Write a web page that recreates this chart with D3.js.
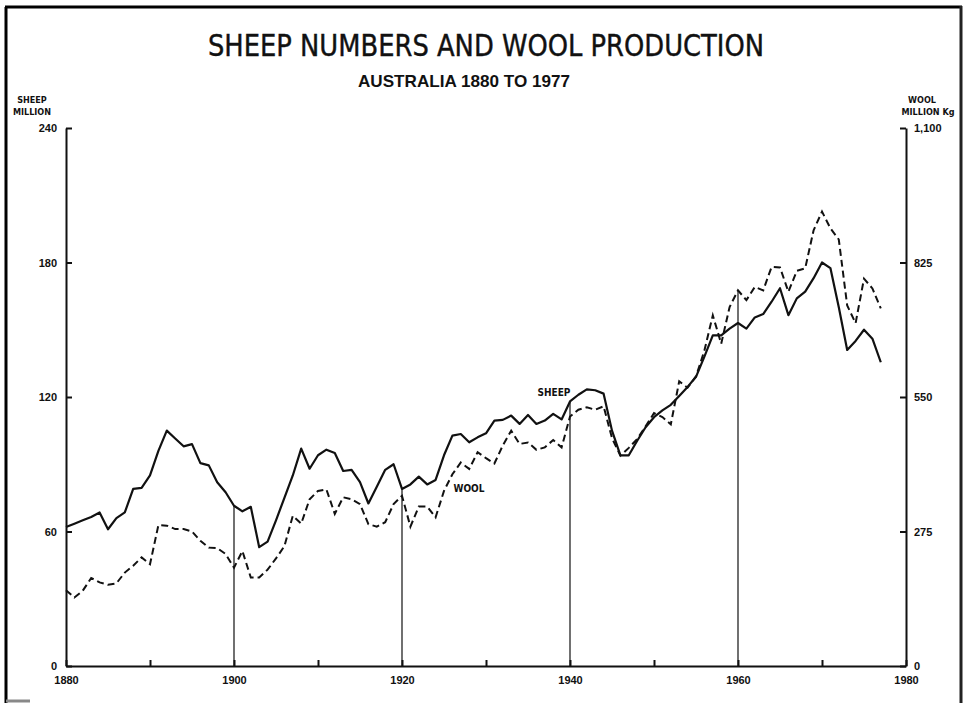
<!DOCTYPE html>
<html>
<head>
<meta charset="utf-8">
<script src="https://cdn.jsdelivr.net/npm/d3@7"></script>
<style>
  body { margin: 0; background: #fff; overflow: hidden; }
  svg { display: block; }
  svg text { fill: #111; }
</style>
</head>
<body>
<div id="myChart"></div>
<script>
			//Global Variables
			var w = 964;
			var h = 703;
			var narrow = "'Liberation Sans Narrow', 'DejaVu Sans Condensed', 'Liberation Sans', sans-serif";
			var bold = "'Liberation Sans', Arial, sans-serif";

			//data (sheep in million, wool in million kg)
			var years = [
				1880,1881,1882,1883,1884,1885,1886,1887,1888,1889,
				1890,1891,1892,1893,1894,1895,1896,1897,1898,1899,
				1900,1901,1902,1903,1904,1905,1906,1907,1908,1909,
				1910,1911,1912,1913,1914,1915,1916,1917,1918,1919,
				1920,1921,1922,1923,1924,1925,1926,1927,1928,1929,
				1930,1931,1932,1933,1934,1935,1936,1937,1938,1939,
				1940,1941,1942,1943,1944,1945,1946,1947,1948,1949,
				1950,1951,1952,1953,1954,1955,1956,1957,1958,1959,
				1960,1961,1962,1963,1964,1965,1966,1967,1968,1969,
				1970,1971,1972,1973,1974,1975,1976,1977];

			var sheep = [
				62,63.5,65,66.5,68.5,61,66,68.5,79,79.5,
				85,96,105,101.5,98,99,90.5,89.5,82,77.5,
				71.5,69,71,53,55.5,65,75,85,97,88,
				94,96.5,95,87,87.5,82,72.5,80,87.5,90,
				79,81,84.5,81,83,94,102.8,103.5,99.8,102,
				103.8,109.5,109.8,111.7,108,112,108,109.5,112.5,110,
				118,121,123.4,123,121.5,105,94,94,100.5,106.5,
				111,114,116.5,120.5,124.5,129,138,147.5,147.5,150.5,
				153,150.5,155.5,157,162.5,168.5,156.5,164,167,173,
				180,177.5,160,141,145,150,146,135.5];

			var wool = [
				155,140,154,180,171,166,169,191,205,222,
				208,288,287,280,280,275,256,242,241,229,
				201,235,181,181,197,220,245,307,291,341,
				358,361,311,345,341,331,290,285,294,331,
				348,285,326,326,304,358,392,416,403,437,
				425,414,451,481,454,457,442,447,462,447,
				510,524,529,524,531,466,430,446,464,490,
				517,509,494,582,569,592,645,717,659,734,
				768,748,775,768,816,815,765,808,813,891,
				929,895,872,737,701,792,772,731];

			var sheepTicks = [0, 60, 120, 180, 240];
			var woolTicks = [0, 275, 550, 825, 1100];
			var yearTicks = [1880, 1890, 1900, 1910, 1920, 1930, 1940, 1950, 1960, 1970, 1980];
			var dropYears = [1900, 1920, 1940, 1960];

			var dataset = years.map(function(d, i) {
				return { year: d, sheep: sheep[i], wool: wool[i] };
			});

			//scales
			var xScale = d3.scaleLinear().domain([1880, 1980]).range([66, 906]);
			var ySheep = d3.scaleLinear().domain([0, 240]).range([666, 128]);
			var yWool = d3.scaleLinear().domain([0, 1100]).range([666, 128]);

			//svg
			var svg = d3.select("#myChart")
						.append("svg")
						.attr("width", w)
						.attr("height", h);

			//page frame (left, top, right edges of the scanned sheet)
			var frame = [
				{ x1: 6, y1: 7, x2: 6, y2: 703, c: "#000" },
				{ x1: 5, y1: 7, x2: 962, y2: 7, c: "#000" },
				{ x1: 961, y1: 6, x2: 961, y2: 703, c: "#222" },
				{ x1: 6, y1: 701, x2: 30, y2: 701, c: "#888" }
			];
			svg.selectAll("line.frame")
				.data(frame)
				.enter()
				.append("line")
				.attr("class", "frame")
				.attr("x1", function(d) { return d.x1; })
				.attr("y1", function(d) { return d.y1; })
				.attr("x2", function(d) { return d.x2; })
				.attr("y2", function(d) { return d.y2; })
				.attr("stroke", function(d) { return d.c; })
				.attr("stroke-width", 3);

			//titles
			svg.append("text")
				.attr("x", 486).attr("y", 56)
				.attr("text-anchor", "middle")
				.attr("font-family", narrow)
				.attr("font-size", "30px")
				.attr("stroke", "#111")
				.attr("stroke-width", 0.4)
				.attr("textLength", 556)
				.attr("lengthAdjust", "spacingAndGlyphs")
				.text("SHEEP NUMBERS AND WOOL PRODUCTION");

			svg.append("text")
				.attr("x", 464).attr("y", 87)
				.attr("text-anchor", "middle")
				.attr("font-family", bold)
				.attr("font-weight", "bold")
				.attr("font-size", "17px")
				.attr("textLength", 212)
				.attr("lengthAdjust", "spacingAndGlyphs")
				.text("AUSTRALIA 1880 TO 1977");

			//axis titles
			var axisTitles = [
				{ t: "SHEEP", x: 32, y: 103 },
				{ t: "MILLION", x: 32, y: 115 },
				{ t: "WOOL", x: 922, y: 103 },
				{ t: "MILLION Kg", x: 928, y: 115 }
			];
			svg.selectAll("text.axtitle")
				.data(axisTitles)
				.enter()
				.append("text")
				.attr("class", "axtitle")
				.attr("x", function(d) { return d.x; })
				.attr("y", function(d) { return d.y; })
				.attr("text-anchor", "middle")
				.attr("font-family", narrow)
				.attr("font-weight", "bold")
				.attr("font-size", "9px")
				.text(function(d) { return d.t; });

			//drop lines from the axis up to the curves
			svg.selectAll("line.drop")
				.data(dataset.filter(function(d) { return dropYears.indexOf(d.year) >= 0; }))
				.enter()
				.append("line")
				.attr("class", "drop")
				.attr("x1", function(d) { return xScale(d.year); })
				.attr("x2", function(d) { return xScale(d.year); })
				.attr("y1", ySheep(0))
				.attr("y2", function(d) { return Math.min(ySheep(d.sheep), yWool(d.wool)); })
				.attr("stroke", "#111")
				.attr("stroke-width", 1.2);

			//axes
			var leftAxis = d3.axisLeft(ySheep)
				.tickValues(sheepTicks)
				.tickSizeInner(-6)
				.tickSizeOuter(0)
				.tickPadding(9);
			var rightAxis = d3.axisRight(yWool)
				.tickValues(woolTicks)
				.tickSizeInner(-6)
				.tickSizeOuter(0)
				.tickPadding(8)
				.tickFormat(d3.format(","));
			var bottomAxis = d3.axisBottom(xScale)
				.tickValues(yearTicks)
				.tickSizeInner(-6)
				.tickSizeOuter(0)
				.tickPadding(10)
				.tickFormat(function(d) { return d % 20 == 0 ? d : ""; });

			svg.append("g")
				.attr("class", "axis")
				.attr("transform", "translate(" + xScale(1880) + ",0)")
				.call(leftAxis);
			svg.append("g")
				.attr("class", "axis")
				.attr("transform", "translate(" + xScale(1980) + ",0)")
				.call(rightAxis);
			svg.append("g")
				.attr("class", "axis")
				.attr("transform", "translate(0," + ySheep(0) + ")")
				.call(bottomAxis);

			svg.selectAll(".axis path, .axis line")
				.attr("stroke", "#111")
				.attr("stroke-width", 2);
			svg.selectAll(".axis text")
				.attr("font-family", bold)
				.attr("font-weight", "bold")
				.attr("font-size", "11px")
				.attr("fill", "#111");

			//lines
			var sheepLine = d3.line()
				.x(function(d) { return xScale(d.year); })
				.y(function(d) { return ySheep(d.sheep); });
			var woolLine = d3.line()
				.x(function(d) { return xScale(d.year); })
				.y(function(d) { return yWool(d.wool); });

			svg.append("path")
				.datum(dataset)
				.attr("d", woolLine)
				.attr("fill", "none")
				.attr("stroke", "#111")
				.attr("stroke-width", 2)
				.attr("stroke-dasharray", "7,4");

			svg.append("path")
				.datum(dataset)
				.attr("d", sheepLine)
				.attr("fill", "none")
				.attr("stroke", "#111")
				.attr("stroke-width", 2.2)
				.attr("stroke-linejoin", "round");

			//series labels
			svg.append("text")
				.attr("x", 554).attr("y", 396)
				.attr("text-anchor", "middle")
				.attr("font-family", narrow)
				.attr("font-weight", "bold")
				.attr("font-size", "10px")
				.text("SHEEP");
			svg.append("text")
				.attr("x", 469).attr("y", 492)
				.attr("text-anchor", "middle")
				.attr("font-family", narrow)
				.attr("font-weight", "bold")
				.attr("font-size", "10px")
				.text("WOOL");
</script>
</body>
</html>
